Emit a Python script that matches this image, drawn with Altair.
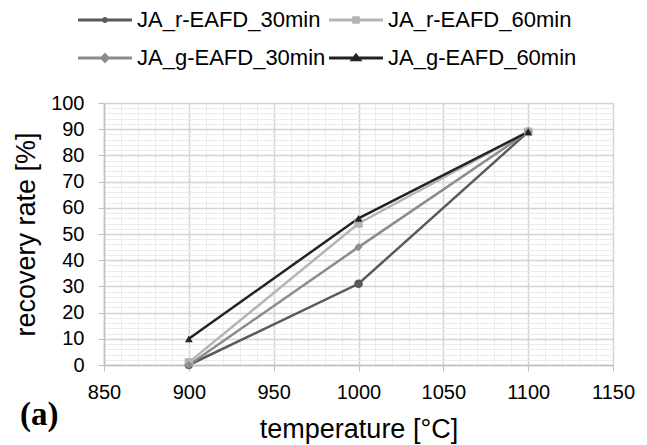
import altair as alt
import pandas as pd

temps = [900, 1000, 1100]
series = ["JA_r-EAFD_30min", "JA_r-EAFD_60min", "JA_g-EAFD_30min", "JA_g-EAFD_60min"]
r30 = [0, 31, 89]
r60 = [1, 54, 89]
g30 = [0, 45, 89]
g60 = [10, 56, 89]
colors = ["#5a5a5a", "#b4b4b4", "#8c8c8c", "#232323"]
shapes = ["circle", "square", "diamond", "triangle-up"]
sizes = [75, 60, 95, 115]

# legend glyphs: line segment plus marker (unit box [-1,1])
t = 0.055
bar = f"M-1,-{t}H1V{t}H-1Z"
leg_shapes = [
    bar + "M0.11,0A0.11,0.11 0 1,1 -0.11,0A0.11,0.11 0 1,1 0.11,0Z",
    bar + "M-0.14,-0.14H0.14V0.14H-0.14Z",
    bar + "M0,-0.2L0.19,0L0,0.2L-0.19,0Z",
    bar + "M0,-0.19L0.24,0.12L-0.24,0.12Z",
]

rows = []
for name, vals in zip(series, [r30, r60, g30, g60]):
    for tt, v in zip(temps, vals):
        rows.append({"temperature": tt, "rate": v, "series": name})
df = pd.DataFrame(rows)

FONT = "Liberation Sans"

x = alt.X(
    "temperature:Q",
    scale=alt.Scale(domain=[850, 1150], nice=False, zero=False),
    axis=alt.Axis(
        values=list(range(850, 1151, 10)),
        format="d",
        labelExpr="datum.value % 50 === 0 ? datum.label : ''",
        title="temperature [°C]",
        titleFontSize=27,
        titleFontWeight="normal",
        titleFont=FONT,
        titleColor="#000000",
        titlePadding=14,
        labelFontSize=20,
        labelFont=FONT,
        labelColor="#000000",
        labelFlush=False,
        labelOverlap=False,
        labelPadding=11,
        tickSize=6,
        tickColor="#bfbfbf",
        tickOpacity={"condition": {"test": "datum.value % 50 === 0", "value": 1}, "value": 0},
        domainColor="#bfbfbf",
        domainWidth=1.5,
        gridColor={"condition": {"test": "datum.value % 50 === 0", "value": "#d4d4d4"}, "value": "#ececec"},
        gridWidth={"condition": {"test": "datum.value % 50 === 0", "value": 1.5}, "value": 1},
    ),
)
y = alt.Y(
    "rate:Q",
    scale=alt.Scale(domain=[0, 100], nice=False),
    axis=alt.Axis(
        values=list(range(0, 101, 2)),
        format="d",
        labelExpr="datum.value % 10 === 0 ? datum.label : ''",
        title="recovery rate [%]",
        titleFontSize=27,
        titleFontWeight="normal",
        titleFont=FONT,
        titleColor="#000000",
        titlePadding=10,
        labelFontSize=20,
        labelFont=FONT,
        labelColor="#000000",
        labelFlush=False,
        labelOverlap=False,
        labelPadding=14,
        tickSize=6,
        tickColor="#bfbfbf",
        tickOpacity={"condition": {"test": "datum.value % 10 === 0", "value": 1}, "value": 0},
        domainColor="#bfbfbf",
        domainWidth=1.5,
        gridColor={"condition": {"test": "datum.value % 10 === 0", "value": "#d4d4d4"}, "value": "#ececec"},
        gridWidth={"condition": {"test": "datum.value % 10 === 0", "value": 1.5}, "value": 1},
    ),
)

color = alt.Color("series:N", scale=alt.Scale(domain=series, range=colors), legend=None)

lines = alt.Chart(df).mark_line(strokeWidth=2.5).encode(x=x, y=y, color=color, order="temperature:Q")
points = alt.Chart(df).mark_point(filled=True, opacity=1).encode(
    x=x, y=y, color=color,
    shape=alt.Shape("series:N", scale=alt.Scale(domain=series, range=shapes), legend=None),
    size=alt.Size("series:N", scale=alt.Scale(domain=series, range=sizes), legend=None),
)

legend = alt.Legend(
    title=None,
    orient="none",
    legendX=-26,
    legendY=-110,
    columns=2,
    direction="horizontal",
    symbolSize=2916,
    symbolStrokeWidth=0,
    symbolOpacity=1,
    labelFontSize=22,
    labelFont=FONT,
    labelColor="#000000",
    labelOffset=5,
    columnPadding=3,
    rowPadding=0,
    labelLimit=300,
)
# legend-only layer: no marks drawn, the explicit scale domain fills the legend
legend_layer = alt.Chart(df).transform_filter("false").mark_point(filled=True).encode(
    x=x, y=y,
    fill=alt.Fill("series:N", scale=alt.Scale(domain=series, range=colors), legend=legend, sort=series),
    shape=alt.Shape("series:N", scale=alt.Scale(domain=series, range=leg_shapes), legend=legend, sort=series),
)

chart = (
    alt.layer(lines, points, legend_layer)
    .resolve_scale(shape="independent", fill="independent")
    .properties(
        width=509,
        height=262,
        autosize=alt.AutoSizeParams(type="none"),
        padding={"left": 96, "top": 95, "right": 26, "bottom": 80},
        title=alt.TitleParams(
            "(a)",
            orient="bottom",
            anchor="start",
            frame="group",
            font="Liberation Serif",
            fontSize=33,
            fontWeight="bold",
            color="#000000",
            dx=-84,
            dy=-47,
        ),
    )
    .configure_view(stroke=None)
    .configure(background="white")
)

chart.save("out.html", embed_options={"renderer": "svg", "actions": False})
